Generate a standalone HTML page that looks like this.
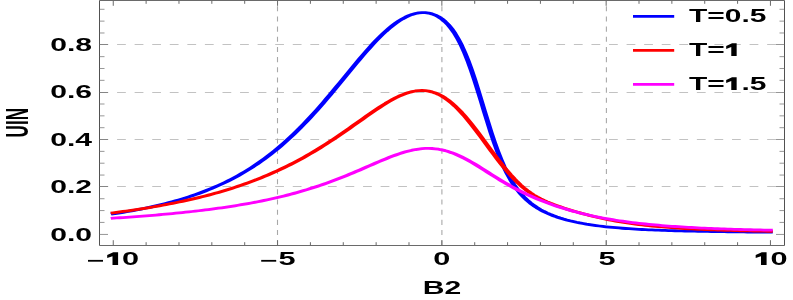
<!DOCTYPE html><html><head><meta charset="utf-8"><title>plot</title><style>html,body{margin:0;padding:0;background:#fff}svg{display:block;will-change:transform}text{font-family:"Liberation Sans",sans-serif;font-weight:bold;fill:#000}</style></head><body>
<svg width="793" height="300" viewBox="0 0 793 300">
<rect width="793" height="300" fill="#fff"/>
<line x1="99.50" x2="784.50" y1="186.50" y2="186.50" stroke="#a8a8a8" stroke-width="0.7" stroke-dasharray="8.77 8.8"/>
<line x1="99.50" x2="784.50" y1="139.50" y2="139.50" stroke="#a8a8a8" stroke-width="0.7" stroke-dasharray="8.77 8.8"/>
<line x1="99.50" x2="784.50" y1="92.50" y2="92.50" stroke="#a8a8a8" stroke-width="0.7" stroke-dasharray="8.77 8.8"/>
<line x1="99.50" x2="784.50" y1="44.50" y2="44.50" stroke="#a8a8a8" stroke-width="0.7" stroke-dasharray="8.77 8.8"/>
<line x1="277.50" x2="277.50" y1="245.25" y2="0.50" stroke="#a8a8a8" stroke-width="1.1" stroke-dasharray="5.1 5.07"/>
<line x1="441.90" x2="441.90" y1="245.25" y2="0.50" stroke="#a8a8a8" stroke-width="1.1" stroke-dasharray="5.1 5.07"/>
<line x1="606.40" x2="606.40" y1="245.25" y2="0.50" stroke="#a8a8a8" stroke-width="1.1" stroke-dasharray="5.1 5.07"/>
<g transform="scale(1.800,1)" fill="none" stroke-width="2.8" stroke-linejoin="round" stroke-linecap="square">
<path d="M62.92,213.84 L64.74,213.34 L66.57,212.82 L68.39,212.29 L70.22,211.74 L72.04,211.17 L73.87,210.59 L75.69,209.98 L77.52,209.35 L79.34,208.70 L81.17,208.03 L82.99,207.34 L84.82,206.62 L86.64,205.88 L88.47,205.11 L90.29,204.32 L92.12,203.49 L93.94,202.64 L95.77,201.76 L97.59,200.85 L99.42,199.90 L101.24,198.92 L103.07,197.91 L104.89,196.86 L106.72,195.77 L108.54,194.64 L110.37,193.48 L112.19,192.27 L114.02,191.01 L115.84,189.71 L117.67,188.36 L119.49,186.97 L121.32,185.52 L123.14,184.02 L124.97,182.47 L126.79,180.86 L128.62,179.19 L130.44,177.46 L132.27,175.67 L134.09,173.81 L135.92,171.89 L137.74,169.90 L139.57,167.84 L141.39,165.71 L143.22,163.51 L145.04,161.23 L146.87,158.87 L148.69,156.44 L150.52,153.92 L152.34,151.32 L154.17,148.64 L155.99,145.88 L157.82,143.04 L159.64,140.10 L161.47,137.09 L163.29,133.99 L165.12,130.81 L166.94,127.54 L168.77,124.19 L170.59,120.76 L172.42,117.26 L174.24,113.68 L176.07,110.03 L177.89,106.32 L179.72,102.54 L181.54,98.71 L183.37,94.83 L185.19,90.91 L187.02,86.95 L188.84,82.97 L190.67,78.97 L192.49,74.96 L194.32,70.96 L196.14,66.98 L197.97,63.03 L199.79,59.12 L201.62,55.27 L203.44,51.49 L205.27,47.79 L207.09,44.20 L208.92,40.72 L210.74,37.37 L212.57,34.17 L214.39,31.13 L216.22,28.27 L218.04,25.60 L219.87,23.14 L221.69,20.90 L223.52,18.89 L225.34,17.14 L227.17,15.65 L228.99,14.44 L230.82,13.52 L232.64,12.90 L234.47,12.61 L236.29,12.66 L238.12,13.07 L239.94,13.86 L241.77,15.07 L243.59,16.74 L245.42,18.90 L247.24,21.60 L249.07,24.91 L250.89,28.88 L252.72,33.59 L254.54,39.11 L256.37,45.48 L258.19,52.74 L260.02,60.89 L261.84,69.89 L263.67,79.62 L265.49,89.93 L267.32,100.62 L269.14,111.43 L270.97,122.11 L272.79,132.44 L274.62,142.22 L276.44,151.30 L278.27,159.60 L280.09,167.09 L281.92,173.78 L283.74,179.70 L285.57,184.93 L287.39,189.53 L289.22,193.57 L291.04,197.13 L292.87,200.27 L294.69,203.04 L296.52,205.50 L298.34,207.69 L300.17,209.66 L301.99,211.42 L303.82,213.01 L305.64,214.45 L307.47,215.75 L309.29,216.94 L311.12,218.03 L312.94,219.02 L314.77,219.94 L316.59,220.78 L318.42,221.55 L320.24,222.27 L322.07,222.93 L323.89,223.54 L325.72,224.11 L327.54,224.63 L329.37,225.12 L331.19,225.58 L333.02,226.00 L334.84,226.39 L336.67,226.76 L338.49,227.10 L340.32,227.42 L342.14,227.71 L343.97,227.99 L345.79,228.25 L347.62,228.49 L349.44,228.72 L351.27,228.93 L353.09,229.13 L354.92,229.31 L356.74,229.49 L358.57,229.65 L360.39,229.80 L362.22,229.95 L364.04,230.08 L365.87,230.21 L367.69,230.33 L369.52,230.45 L371.34,230.55 L373.17,230.65 L374.99,230.75 L376.82,230.84 L378.64,230.92 L380.47,231.00 L382.29,231.08 L384.12,231.15 L385.94,231.22 L387.77,231.29 L389.59,231.35 L391.42,231.41 L393.24,231.46 L395.07,231.52 L396.89,231.57 L398.72,231.62 L400.54,231.67 L402.37,231.71 L404.19,231.75 L406.02,231.79 L407.84,231.83 L409.67,231.87 L411.49,231.91 L413.32,231.94 L415.14,231.98 L416.97,232.01 L418.79,232.04 L420.62,232.07 L422.44,232.10 L424.27,232.13 L426.09,232.16 L427.92,232.18" stroke="#0000ff"/>
<path d="M62.92,212.76 L64.74,212.34 L66.57,211.92 L68.39,211.48 L70.22,211.03 L72.04,210.57 L73.87,210.10 L75.69,209.61 L77.52,209.12 L79.34,208.61 L81.17,208.09 L82.99,207.55 L84.82,207.00 L86.64,206.44 L88.47,205.86 L90.29,205.27 L92.12,204.66 L93.94,204.03 L95.77,203.39 L97.59,202.74 L99.42,202.06 L101.24,201.37 L103.07,200.65 L104.89,199.92 L106.72,199.17 L108.54,198.40 L110.37,197.61 L112.19,196.80 L114.02,195.97 L115.84,195.11 L117.67,194.23 L119.49,193.33 L121.32,192.40 L123.14,191.45 L124.97,190.47 L126.79,189.46 L128.62,188.43 L130.44,187.37 L132.27,186.28 L134.09,185.17 L135.92,184.02 L137.74,182.84 L139.57,181.63 L141.39,180.39 L143.22,179.11 L145.04,177.80 L146.87,176.46 L148.69,175.08 L150.52,173.66 L152.34,172.21 L154.17,170.72 L155.99,169.19 L157.82,167.63 L159.64,166.02 L161.47,164.37 L163.29,162.69 L165.12,160.96 L166.94,159.19 L168.77,157.38 L170.59,155.53 L172.42,153.64 L174.24,151.71 L176.07,149.74 L177.89,147.72 L179.72,145.67 L181.54,143.58 L183.37,141.46 L185.19,139.30 L187.02,137.10 L188.84,134.88 L190.67,132.63 L192.49,130.35 L194.32,128.05 L196.14,125.74 L197.97,123.42 L199.79,121.10 L201.62,118.77 L203.44,116.46 L205.27,114.16 L207.09,111.90 L208.92,109.67 L210.74,107.49 L212.57,105.37 L214.39,103.33 L216.22,101.38 L218.04,99.53 L219.87,97.80 L221.69,96.22 L223.52,94.78 L225.34,93.53 L227.17,92.46 L228.99,91.61 L230.82,90.98 L232.64,90.60 L234.47,90.49 L236.29,90.65 L238.12,91.11 L239.94,91.86 L241.77,92.93 L243.59,94.31 L245.42,96.01 L247.24,98.03 L249.07,100.35 L250.89,102.98 L252.72,105.89 L254.54,109.08 L256.37,112.52 L258.19,116.19 L260.02,120.07 L261.84,124.12 L263.67,128.32 L265.49,132.63 L267.32,137.03 L269.14,141.49 L270.97,145.96 L272.79,150.42 L274.62,154.83 L276.44,159.17 L278.27,163.41 L280.09,167.51 L281.92,171.45 L283.74,175.20 L285.57,178.75 L287.39,182.07 L289.22,185.16 L291.04,188.00 L292.87,190.59 L294.69,192.96 L296.52,195.10 L298.34,197.03 L300.17,198.78 L301.99,200.38 L303.82,201.84 L305.64,203.19 L307.47,204.45 L309.29,205.64 L311.12,206.78 L312.94,207.87 L314.77,208.92 L316.59,209.94 L318.42,210.93 L320.24,211.88 L322.07,212.81 L323.89,213.72 L325.72,214.59 L327.54,215.43 L329.37,216.24 L331.19,217.02 L333.02,217.78 L334.84,218.50 L336.67,219.19 L338.49,219.85 L340.32,220.48 L342.14,221.08 L343.97,221.65 L345.79,222.19 L347.62,222.71 L349.44,223.20 L351.27,223.67 L353.09,224.11 L354.92,224.53 L356.74,224.93 L358.57,225.31 L360.39,225.67 L362.22,226.01 L364.04,226.33 L365.87,226.63 L367.69,226.92 L369.52,227.20 L371.34,227.45 L373.17,227.70 L374.99,227.93 L376.82,228.15 L378.64,228.36 L380.47,228.56 L382.29,228.74 L384.12,228.92 L385.94,229.09 L387.77,229.25 L389.59,229.40 L391.42,229.55 L393.24,229.68 L395.07,229.81 L396.89,229.93 L398.72,230.05 L400.54,230.16 L402.37,230.27 L404.19,230.37 L406.02,230.47 L407.84,230.56 L409.67,230.64 L411.49,230.73 L413.32,230.81 L415.14,230.88 L416.97,230.95 L418.79,231.02 L420.62,231.09 L422.44,231.15 L424.27,231.21 L426.09,231.27 L427.92,231.32" stroke="#ff0000"/>
<path d="M62.92,218.17 L64.74,217.96 L66.57,217.74 L68.39,217.52 L70.22,217.30 L72.04,217.07 L73.87,216.83 L75.69,216.59 L77.52,216.35 L79.34,216.09 L81.17,215.84 L82.99,215.57 L84.82,215.30 L86.64,215.03 L88.47,214.75 L90.29,214.46 L92.12,214.16 L93.94,213.85 L95.77,213.54 L97.59,213.22 L99.42,212.90 L101.24,212.56 L103.07,212.22 L104.89,211.86 L106.72,211.50 L108.54,211.13 L110.37,210.75 L112.19,210.35 L114.02,209.95 L115.84,209.54 L117.67,209.11 L119.49,208.68 L121.32,208.23 L123.14,207.77 L124.97,207.29 L126.79,206.80 L128.62,206.30 L130.44,205.79 L132.27,205.26 L134.09,204.71 L135.92,204.15 L137.74,203.57 L139.57,202.97 L141.39,202.36 L143.22,201.73 L145.04,201.08 L146.87,200.40 L148.69,199.71 L150.52,199.00 L152.34,198.27 L154.17,197.51 L155.99,196.74 L157.82,195.93 L159.64,195.11 L161.47,194.26 L163.29,193.38 L165.12,192.48 L166.94,191.55 L168.77,190.59 L170.59,189.61 L172.42,188.60 L174.24,187.55 L176.07,186.48 L177.89,185.38 L179.72,184.25 L181.54,183.09 L183.37,181.90 L185.19,180.69 L187.02,179.44 L188.84,178.17 L190.67,176.87 L192.49,175.54 L194.32,174.19 L196.14,172.82 L197.97,171.43 L199.79,170.03 L201.62,168.61 L203.44,167.19 L205.27,165.76 L207.09,164.33 L208.92,162.91 L210.74,161.51 L212.57,160.13 L214.39,158.77 L216.22,157.46 L218.04,156.19 L219.87,154.98 L221.69,153.84 L223.52,152.78 L225.34,151.81 L227.17,150.93 L228.99,150.17 L230.82,149.54 L232.64,149.03 L234.47,148.67 L236.29,148.45 L238.12,148.40 L239.94,148.51 L241.77,148.78 L243.59,149.23 L245.42,149.84 L247.24,150.63 L249.07,151.58 L250.89,152.68 L252.72,153.94 L254.54,155.35 L256.37,156.88 L258.19,158.53 L260.02,160.29 L261.84,162.14 L263.67,164.07 L265.49,166.06 L267.32,168.09 L269.14,170.16 L270.97,172.24 L272.79,174.32 L274.62,176.39 L276.44,178.43 L278.27,180.43 L280.09,182.39 L281.92,184.29 L283.74,186.14 L285.57,187.92 L287.39,189.64 L289.22,191.30 L291.04,192.90 L292.87,194.45 L294.69,195.94 L296.52,197.38 L298.34,198.77 L300.17,200.12 L301.99,201.42 L303.82,202.67 L305.64,203.89 L307.47,205.06 L309.29,206.19 L311.12,207.27 L312.94,208.32 L314.77,209.32 L316.59,210.29 L318.42,211.22 L320.24,212.11 L322.07,212.96 L323.89,213.78 L325.72,214.56 L327.54,215.31 L329.37,216.02 L331.19,216.71 L333.02,217.36 L334.84,217.99 L336.67,218.59 L338.49,219.16 L340.32,219.71 L342.14,220.23 L343.97,220.73 L345.79,221.21 L347.62,221.66 L349.44,222.10 L351.27,222.51 L353.09,222.91 L354.92,223.29 L356.74,223.65 L358.57,224.00 L360.39,224.33 L362.22,224.65 L364.04,224.95 L365.87,225.24 L367.69,225.52 L369.52,225.78 L371.34,226.03 L373.17,226.27 L374.99,226.50 L376.82,226.73 L378.64,226.94 L380.47,227.14 L382.29,227.33 L384.12,227.51 L385.94,227.69 L387.77,227.86 L389.59,228.02 L391.42,228.17 L393.24,228.32 L395.07,228.46 L396.89,228.60 L398.72,228.73 L400.54,228.85 L402.37,228.97 L404.19,229.08 L406.02,229.19 L407.84,229.29 L409.67,229.39 L411.49,229.48 L413.32,229.57 L415.14,229.66 L416.97,229.74 L418.79,229.82 L420.62,229.90 L422.44,229.97 L424.27,230.04 L426.09,230.10 L427.92,230.16" stroke="#ff00ff"/>
</g>
<g stroke="#6a6a6a" fill="none">
<line x1="99.50" x2="784.50" y1="0.50" y2="0.50" stroke-width="1"/>
<line x1="99.50" x2="784.50" y1="245.50" y2="245.50" stroke-width="1"/>
<line x1="99.50" x2="99.50" y1="0.50" y2="245.50" stroke-width="0.95" stroke="#484848"/>
<line x1="784.50" x2="784.50" y1="0.50" y2="245.50" stroke-width="0.95" stroke="#484848"/>
<line x1="113.25" x2="113.25" y1="245.50" y2="240.20" stroke-width="1.0"/>
<line x1="113.25" x2="113.25" y1="0.50" y2="5.80" stroke-width="1.0"/>
<line x1="146.11" x2="146.11" y1="245.50" y2="242.20" stroke-width="1.0"/>
<line x1="146.11" x2="146.11" y1="0.50" y2="3.80" stroke-width="1.0"/>
<line x1="178.97" x2="178.97" y1="245.50" y2="242.20" stroke-width="1.0"/>
<line x1="178.97" x2="178.97" y1="0.50" y2="3.80" stroke-width="1.0"/>
<line x1="211.83" x2="211.83" y1="245.50" y2="242.20" stroke-width="1.0"/>
<line x1="211.83" x2="211.83" y1="0.50" y2="3.80" stroke-width="1.0"/>
<line x1="244.69" x2="244.69" y1="245.50" y2="242.20" stroke-width="1.0"/>
<line x1="244.69" x2="244.69" y1="0.50" y2="3.80" stroke-width="1.0"/>
<line x1="277.55" x2="277.55" y1="245.50" y2="240.20" stroke-width="1.0"/>
<line x1="277.55" x2="277.55" y1="0.50" y2="5.80" stroke-width="1.0"/>
<line x1="310.41" x2="310.41" y1="245.50" y2="242.20" stroke-width="1.0"/>
<line x1="310.41" x2="310.41" y1="0.50" y2="3.80" stroke-width="1.0"/>
<line x1="343.27" x2="343.27" y1="245.50" y2="242.20" stroke-width="1.0"/>
<line x1="343.27" x2="343.27" y1="0.50" y2="3.80" stroke-width="1.0"/>
<line x1="376.13" x2="376.13" y1="245.50" y2="242.20" stroke-width="1.0"/>
<line x1="376.13" x2="376.13" y1="0.50" y2="3.80" stroke-width="1.0"/>
<line x1="408.99" x2="408.99" y1="245.50" y2="242.20" stroke-width="1.0"/>
<line x1="408.99" x2="408.99" y1="0.50" y2="3.80" stroke-width="1.0"/>
<line x1="441.85" x2="441.85" y1="245.50" y2="240.20" stroke-width="1.0"/>
<line x1="441.85" x2="441.85" y1="0.50" y2="5.80" stroke-width="1.0"/>
<line x1="474.71" x2="474.71" y1="245.50" y2="242.20" stroke-width="1.0"/>
<line x1="474.71" x2="474.71" y1="0.50" y2="3.80" stroke-width="1.0"/>
<line x1="507.57" x2="507.57" y1="245.50" y2="242.20" stroke-width="1.0"/>
<line x1="507.57" x2="507.57" y1="0.50" y2="3.80" stroke-width="1.0"/>
<line x1="540.43" x2="540.43" y1="245.50" y2="242.20" stroke-width="1.0"/>
<line x1="540.43" x2="540.43" y1="0.50" y2="3.80" stroke-width="1.0"/>
<line x1="573.29" x2="573.29" y1="245.50" y2="242.20" stroke-width="1.0"/>
<line x1="573.29" x2="573.29" y1="0.50" y2="3.80" stroke-width="1.0"/>
<line x1="606.15" x2="606.15" y1="245.50" y2="240.20" stroke-width="1.0"/>
<line x1="606.15" x2="606.15" y1="0.50" y2="5.80" stroke-width="1.0"/>
<line x1="639.01" x2="639.01" y1="245.50" y2="242.20" stroke-width="1.0"/>
<line x1="639.01" x2="639.01" y1="0.50" y2="3.80" stroke-width="1.0"/>
<line x1="671.87" x2="671.87" y1="245.50" y2="242.20" stroke-width="1.0"/>
<line x1="671.87" x2="671.87" y1="0.50" y2="3.80" stroke-width="1.0"/>
<line x1="704.73" x2="704.73" y1="245.50" y2="242.20" stroke-width="1.0"/>
<line x1="704.73" x2="704.73" y1="0.50" y2="3.80" stroke-width="1.0"/>
<line x1="737.59" x2="737.59" y1="245.50" y2="242.20" stroke-width="1.0"/>
<line x1="737.59" x2="737.59" y1="0.50" y2="3.80" stroke-width="1.0"/>
<line x1="770.45" x2="770.45" y1="245.50" y2="240.20" stroke-width="1.0"/>
<line x1="770.45" x2="770.45" y1="0.50" y2="5.80" stroke-width="1.0"/>
<line x1="99.50" x2="108.00" y1="234.45" y2="234.45" stroke-width="0.7"/>
<line x1="784.50" x2="776.00" y1="234.45" y2="234.45" stroke-width="0.7"/>
<line x1="99.50" x2="104.50" y1="222.41" y2="222.41" stroke-width="0.7"/>
<line x1="784.50" x2="779.50" y1="222.41" y2="222.41" stroke-width="0.7"/>
<line x1="99.50" x2="104.50" y1="210.57" y2="210.57" stroke-width="0.7"/>
<line x1="784.50" x2="779.50" y1="210.57" y2="210.57" stroke-width="0.7"/>
<line x1="99.50" x2="104.50" y1="198.73" y2="198.73" stroke-width="0.7"/>
<line x1="784.50" x2="779.50" y1="198.73" y2="198.73" stroke-width="0.7"/>
<line x1="99.50" x2="108.00" y1="186.50" y2="186.50" stroke-width="0.7"/>
<line x1="784.50" x2="776.00" y1="186.50" y2="186.50" stroke-width="0.7"/>
<line x1="99.50" x2="104.50" y1="175.05" y2="175.05" stroke-width="0.7"/>
<line x1="784.50" x2="779.50" y1="175.05" y2="175.05" stroke-width="0.7"/>
<line x1="99.50" x2="104.50" y1="163.21" y2="163.21" stroke-width="0.7"/>
<line x1="784.50" x2="779.50" y1="163.21" y2="163.21" stroke-width="0.7"/>
<line x1="99.50" x2="104.50" y1="151.37" y2="151.37" stroke-width="0.7"/>
<line x1="784.50" x2="779.50" y1="151.37" y2="151.37" stroke-width="0.7"/>
<line x1="99.50" x2="108.00" y1="139.50" y2="139.50" stroke-width="0.7"/>
<line x1="784.50" x2="776.00" y1="139.50" y2="139.50" stroke-width="0.7"/>
<line x1="99.50" x2="104.50" y1="127.69" y2="127.69" stroke-width="0.7"/>
<line x1="784.50" x2="779.50" y1="127.69" y2="127.69" stroke-width="0.7"/>
<line x1="99.50" x2="104.50" y1="115.85" y2="115.85" stroke-width="0.7"/>
<line x1="784.50" x2="779.50" y1="115.85" y2="115.85" stroke-width="0.7"/>
<line x1="99.50" x2="104.50" y1="104.01" y2="104.01" stroke-width="0.7"/>
<line x1="784.50" x2="779.50" y1="104.01" y2="104.01" stroke-width="0.7"/>
<line x1="99.50" x2="108.00" y1="92.50" y2="92.50" stroke-width="0.7"/>
<line x1="784.50" x2="776.00" y1="92.50" y2="92.50" stroke-width="0.7"/>
<line x1="99.50" x2="104.50" y1="80.33" y2="80.33" stroke-width="0.7"/>
<line x1="784.50" x2="779.50" y1="80.33" y2="80.33" stroke-width="0.7"/>
<line x1="99.50" x2="104.50" y1="68.49" y2="68.49" stroke-width="0.7"/>
<line x1="784.50" x2="779.50" y1="68.49" y2="68.49" stroke-width="0.7"/>
<line x1="99.50" x2="104.50" y1="56.65" y2="56.65" stroke-width="0.7"/>
<line x1="784.50" x2="779.50" y1="56.65" y2="56.65" stroke-width="0.7"/>
<line x1="99.50" x2="108.00" y1="44.50" y2="44.50" stroke-width="0.7"/>
<line x1="784.50" x2="776.00" y1="44.50" y2="44.50" stroke-width="0.7"/>
<line x1="99.50" x2="104.50" y1="32.97" y2="32.97" stroke-width="0.7"/>
<line x1="784.50" x2="779.50" y1="32.97" y2="32.97" stroke-width="0.7"/>
<line x1="99.50" x2="104.50" y1="21.13" y2="21.13" stroke-width="0.7"/>
<line x1="784.50" x2="779.50" y1="21.13" y2="21.13" stroke-width="0.7"/>
<line x1="99.50" x2="104.50" y1="9.29" y2="9.29" stroke-width="0.7"/>
<line x1="784.50" x2="779.50" y1="9.29" y2="9.29" stroke-width="0.7"/>
</g>
<text transform="translate(92.00,240.60) scale(1.620,1)" text-anchor="end" font-size="18.60">0.0</text>
<text transform="translate(92.00,193.10) scale(1.620,1)" text-anchor="end" font-size="18.60">0.2</text>
<text transform="translate(92.00,145.60) scale(1.620,1)" text-anchor="end" font-size="18.60">0.4</text>
<text transform="translate(92.00,98.10) scale(1.620,1)" text-anchor="end" font-size="18.60">0.6</text>
<text transform="translate(92.00,50.60) scale(1.620,1)" text-anchor="end" font-size="18.60">0.8</text>
<line x1="88.0" x2="103.0" y1="260.8" y2="260.8" stroke="#000" stroke-width="1.8"/>
<path d="M10.9,0 L10.9,-12.7 L6.1,-12.7 L0,-10 L0,-7 L5.3,-8.8 L5.3,0 Z" transform="translate(107.20,265.00) scale(1.000,1)" fill="#000"/><text transform="translate(121.96,265.00) scale(1.650,1)" text-anchor="start" font-size="18.60">0</text>
<line x1="261.20" x2="276.20" y1="260.8" y2="260.8" stroke="#000" stroke-width="1.8"/>
<text transform="translate(278.60,265.00) scale(1.650,1)" text-anchor="start" font-size="18.60">5</text>
<text transform="translate(441.85,265.00) scale(1.650,1)" text-anchor="middle" font-size="18.60">0</text>
<text transform="translate(606.95,265.00) scale(1.650,1)" text-anchor="middle" font-size="18.60">5</text>
<path d="M10.9,0 L10.9,-12.7 L6.1,-12.7 L0,-10 L0,-7 L5.3,-8.8 L5.3,0 Z" transform="translate(755.69,265.00) scale(1.000,1)" fill="#000"/><text transform="translate(770.45,265.00) scale(1.650,1)" text-anchor="start" font-size="18.60">0</text>
<text transform="translate(442.10,294.40) scale(1.620,1)" text-anchor="middle" font-size="18.60">B2</text>
<text transform="translate(28.30,122.70) scale(1.850,1) rotate(-90)" text-anchor="middle" font-size="17.10">UIN</text>
<line x1="633" x2="674.2" y1="16.40" y2="16.40" stroke="#0000ff" stroke-width="2.7"/>
<text transform="translate(689.00,21.90) scale(1.610,1)" text-anchor="start" font-size="18.60">T=0.5</text>
<line x1="633" x2="674.2" y1="50.40" y2="50.40" stroke="#ff0000" stroke-width="2.7"/>
<text transform="translate(689.00,55.90) scale(1.610,1)" text-anchor="start" font-size="18.60">T=</text><path d="M10.9,0 L10.9,-12.7 L6.1,-12.7 L0,-10 L0,-7 L5.3,-8.8 L5.3,0 Z" transform="translate(726.19,55.90) scale(0.960,1)" fill="#000"/>
<line x1="633" x2="674.2" y1="84.40" y2="84.40" stroke="#ff00ff" stroke-width="2.7"/>
<text transform="translate(689.00,89.90) scale(1.610,1)" text-anchor="start" font-size="18.60">T=</text><path d="M10.9,0 L10.9,-12.7 L6.1,-12.7 L0,-10 L0,-7 L5.3,-8.8 L5.3,0 Z" transform="translate(726.19,89.90) scale(0.960,1)" fill="#000"/><text transform="translate(741.44,89.90) scale(1.610,1)" text-anchor="start" font-size="18.60">.5</text>
</svg></body></html>
